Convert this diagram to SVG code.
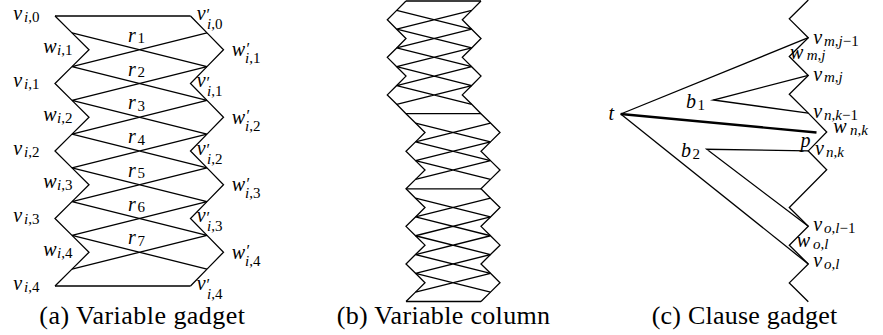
<svg xmlns="http://www.w3.org/2000/svg" width="883" height="335" viewBox="0 0 883 335">
<style>
.ln{stroke:#000;stroke-width:1.3;fill:none;stroke-linejoin:miter;stroke-miterlimit:10}
.thick{stroke-width:2.4}
.m{font-style:italic;font-size:20px}
.s{font-style:italic;font-size:15px}
.pr{font-style:normal;font-size:16px}
.u{font-style:normal}
.cap{font-style:normal;font-size:26px}
</style>
<rect width="883" height="335" fill="#fff"/>
<g id="connectors">
<polyline class="ln" points="55,16 72,32.88 89,49.75 72,66.63 55,83.5 72,100.38 89,117.25 72,134.13 55,151 72,167.88 89,184.75 72,201.63 55,218.5 72,235.38 89,252.25 72,269.13 55,286"/>
<polyline class="ln" points="190.5,16 207,32.88 223.5,49.75 207,66.63 190.5,83.5 207,100.38 223.5,117.25 207,134.13 190.5,151 207,167.88 223.5,184.75 207,201.63 190.5,218.5 207,235.38 223.5,252.25 207,269.13 190.5,286"/>
<line class="ln" x1="55" y1="16" x2="190.5" y2="16"/>
<line class="ln" x1="55" y1="286" x2="190.5" y2="286"/>
<path class="ln" d="M72,32.88L207,66.63M72,66.63L207,32.88M72,66.63L207,100.38M72,100.38L207,66.63M72,100.38L207,134.13M72,134.13L207,100.38M72,134.13L207,167.88M72,167.88L207,134.13M72,167.88L207,201.63M72,201.63L207,167.88M72,201.63L207,235.38M72,235.38L207,201.63M72,235.38L207,269.13M72,269.13L207,235.38"/>
<polyline class="ln" points="406,1 396.7,10.39 387.3,19.78 396.7,29.17 406,38.56 396.7,47.95 387.3,57.34 396.7,66.73 406,76.12 396.7,85.51 387.3,94.9 396.7,104.29 406,113.68 415.5,123.07 425,132.46 415.5,141.85 406,151.24 415.5,160.63 425,170.02 415.5,179.41 406,188.8 415.5,198.19 425,207.58 415.5,216.97 406,226.36 415.5,235.75 425,245.14 415.5,254.53 406,263.92 415.5,273.31 425,282.7 415.5,292.09 406,301.48"/>
<polyline class="ln" points="481,1 471.7,10.39 462.3,19.78 471.7,29.17 481,38.56 471.7,47.95 462.3,57.34 471.7,66.73 481,76.12 471.7,85.51 462.3,94.9 471.7,104.29 481,113.68 490.5,123.07 500,132.46 490.5,141.85 481,151.24 490.5,160.63 500,170.02 490.5,179.41 481,188.8 490.5,198.19 500,207.58 490.5,216.97 481,226.36 490.5,235.75 500,245.14 490.5,254.53 481,263.92 490.5,273.31 500,282.7 490.5,292.09 481,301.48"/>
<path class="ln" d="M406,1H481M406,113.68H481M406,188.8H481M406,301.48H481"/>
<path class="ln" d="M396.7,10.39L471.7,29.17M396.7,29.17L471.7,10.39M396.7,29.17L471.7,47.95M396.7,47.95L471.7,29.17M396.7,47.95L471.7,66.73M396.7,66.73L471.7,47.95M396.7,66.73L471.7,85.51M396.7,85.51L471.7,66.73M396.7,85.51L471.7,104.29M396.7,104.29L471.7,85.51"/>
<path class="ln" d="M415.5,123.07L490.5,141.85M415.5,141.85L490.5,123.07M415.5,141.85L490.5,160.63M415.5,160.63L490.5,141.85M415.5,160.63L490.5,179.41M415.5,179.41L490.5,160.63"/>
<path class="ln" d="M415.5,198.19L490.5,216.97M415.5,216.97L490.5,198.19M415.5,216.97L490.5,235.75M415.5,235.75L490.5,216.97M415.5,235.75L490.5,254.53M415.5,254.53L490.5,235.75M415.5,254.53L490.5,273.31M415.5,273.31L490.5,254.53M415.5,273.31L490.5,292.09M415.5,292.09L490.5,273.31"/>
<polyline class="ln" points="808.3,0 789.3,18.86 808.3,37.72 789.3,56.58 808.3,75.44 789.3,94.3 808.3,113.16 826.7,132.02 808.3,150.88 826.7,169.74 789.3,207.46 808.3,226.32 789.3,245.18 808.3,264.04 789.3,282.9 808.3,301.76"/>
<line class="ln" x1="620.7" y1="114" x2="808.3" y2="37.72"/>
<line class="ln" x1="620.7" y1="114" x2="808.3" y2="264.04"/>
<line class="ln thick" x1="620.7" y1="114" x2="816.5" y2="132.5"/>
<polyline class="ln" points="808.3,75.44 713.3,100 808.3,113.16"/>
<polyline class="ln" points="808.3,150.88 706.7,149.3 808.3,226.32"/>
</g>
<g font-family="Liberation Serif, Times New Roman, serif" fill="#000">
<g id="v_i0"><text class="m" x="13.3" y="19.5">v</text><text class="s" x="24" y="21.5">i<tspan class="u">,0</tspan></text></g>
<g id="v_i1"><text class="m" x="13.3" y="87">v</text><text class="s" x="24" y="89">i<tspan class="u">,1</tspan></text></g>
<g id="v_i2"><text class="m" x="13.3" y="154.5">v</text><text class="s" x="24" y="156.5">i<tspan class="u">,2</tspan></text></g>
<g id="v_i3"><text class="m" x="13.3" y="222">v</text><text class="s" x="24" y="224">i<tspan class="u">,3</tspan></text></g>
<g id="v_i4"><text class="m" x="13.3" y="289.5">v</text><text class="s" x="24" y="291.5">i<tspan class="u">,4</tspan></text></g>
<g id="w_i1"><text class="m" x="43.3" y="53.25">w</text><text class="s" x="57" y="55.25">i<tspan class="u">,1</tspan></text></g>
<g id="w_i2"><text class="m" x="43.3" y="120.75">w</text><text class="s" x="57" y="122.75">i<tspan class="u">,2</tspan></text></g>
<g id="w_i3"><text class="m" x="43.3" y="188.25">w</text><text class="s" x="57" y="190.25">i<tspan class="u">,3</tspan></text></g>
<g id="w_i4"><text class="m" x="43.3" y="255.75">w</text><text class="s" x="57" y="257.75">i<tspan class="u">,4</tspan></text></g>
<g id="vp_i0"><text class="m" x="196.7" y="19.5">v</text><text class="pr" x="206.5" y="20">′</text><text class="s" x="207" y="28.5">i<tspan class="u">,0</tspan></text></g>
<g id="vp_i1"><text class="m" x="196.7" y="87">v</text><text class="pr" x="206.5" y="87.5">′</text><text class="s" x="207" y="96">i<tspan class="u">,1</tspan></text></g>
<g id="vp_i2"><text class="m" x="196.7" y="154.5">v</text><text class="pr" x="206.5" y="155">′</text><text class="s" x="207" y="163.5">i<tspan class="u">,2</tspan></text></g>
<g id="vp_i3"><text class="m" x="196.7" y="222">v</text><text class="pr" x="206.5" y="222.5">′</text><text class="s" x="207" y="231">i<tspan class="u">,3</tspan></text></g>
<g id="vp_i4"><text class="m" x="196.7" y="289.5">v</text><text class="pr" x="206.5" y="290">′</text><text class="s" x="207" y="298.5">i<tspan class="u">,4</tspan></text></g>
<g id="wp_i1"><text class="m" x="231.7" y="56.25">w</text><text class="pr" x="246.5" y="53.75">′</text><text class="s" x="245" y="63.25">i<tspan class="u">,1</tspan></text></g>
<g id="wp_i2"><text class="m" x="231.7" y="123.75">w</text><text class="pr" x="246.5" y="121.25">′</text><text class="s" x="245" y="130.75">i<tspan class="u">,2</tspan></text></g>
<g id="wp_i3"><text class="m" x="231.7" y="191.25">w</text><text class="pr" x="246.5" y="188.75">′</text><text class="s" x="245" y="198.25">i<tspan class="u">,3</tspan></text></g>
<g id="wp_i4"><text class="m" x="231.7" y="258.75">w</text><text class="pr" x="246.5" y="256.25">′</text><text class="s" x="245" y="265.75">i<tspan class="u">,4</tspan></text></g>
<g id="r1"><text class="m" x="128" y="41.75">r</text><text class="s u" x="137.5" y="43.25">1</text></g>
<g id="r2"><text class="m" x="128" y="75.5">r</text><text class="s u" x="137.5" y="77">2</text></g>
<g id="r3"><text class="m" x="128" y="109.25">r</text><text class="s u" x="137.5" y="110.75">3</text></g>
<g id="r4"><text class="m" x="128" y="143">r</text><text class="s u" x="137.5" y="144.5">4</text></g>
<g id="r5"><text class="m" x="128" y="176.75">r</text><text class="s u" x="137.5" y="178.25">5</text></g>
<g id="r6"><text class="m" x="128" y="210.5">r</text><text class="s u" x="137.5" y="212">6</text></g>
<g id="r7"><text class="m" x="128" y="244.25">r</text><text class="s u" x="137.5" y="245.75">7</text></g>
<g id="t"><text class="m" x="608.5" y="120">t</text></g>
<g id="b1"><text class="m" x="686" y="108">b</text><text class="s u" x="697.5" y="110">1</text></g>
<g id="b2"><text class="m" x="681" y="156.5">b</text><text class="s u" x="692.5" y="158.5">2</text></g>
<g id="p"><text class="m" x="800.5" y="146.5">p</text></g>
<g id="v_mj1"><text class="m" x="813.3" y="43.5">v</text><text class="s" x="824" y="45.5">m<tspan class="u">,</tspan>j<tspan class="u">−1</tspan></text></g>
<g id="w_mj"><text class="m" x="790" y="58.5">w</text><text class="s" x="806.7" y="60">m<tspan class="u">,</tspan>j</text></g>
<g id="v_mj"><text class="m" x="813.3" y="80.5">v</text><text class="s" x="824" y="82">m<tspan class="u">,</tspan>j</text></g>
<g id="v_nk1"><text class="m" x="813.3" y="118">v</text><text class="s" x="824" y="120">n<tspan class="u">,</tspan>k<tspan class="u">−1</tspan></text></g>
<g id="w_nk"><text class="m" x="833.3" y="133.3">w</text><text class="s" x="850" y="135">n<tspan class="u">,</tspan>k</text></g>
<g id="v_nk"><text class="m" x="815" y="155">v</text><text class="s" x="826" y="157">n<tspan class="u">,</tspan>k</text></g>
<g id="v_ol1"><text class="m" x="813.3" y="230.7">v</text><text class="s" x="824" y="232.5">o<tspan class="u">,</tspan>l<tspan class="u">−1</tspan></text></g>
<g id="w_ol"><text class="m" x="796.7" y="247.3">w</text><text class="s" x="813" y="249">o<tspan class="u">,</tspan>l</text></g>
<g id="v_ol"><text class="m" x="813.3" y="266.7">v</text><text class="s" x="824" y="268.5">o<tspan class="u">,</tspan>l</text></g>
<text class="cap" x="39.3" y="323.5" textLength="205.7" lengthAdjust="spacing">(a) Variable gadget</text>
<text class="cap" x="336.7" y="323.5" textLength="213.3" lengthAdjust="spacing">(b) Variable column</text>
<text class="cap" x="651.7" y="323.5" textLength="185.6" lengthAdjust="spacing">(c) Clause gadget</text>
</g>
</svg>
